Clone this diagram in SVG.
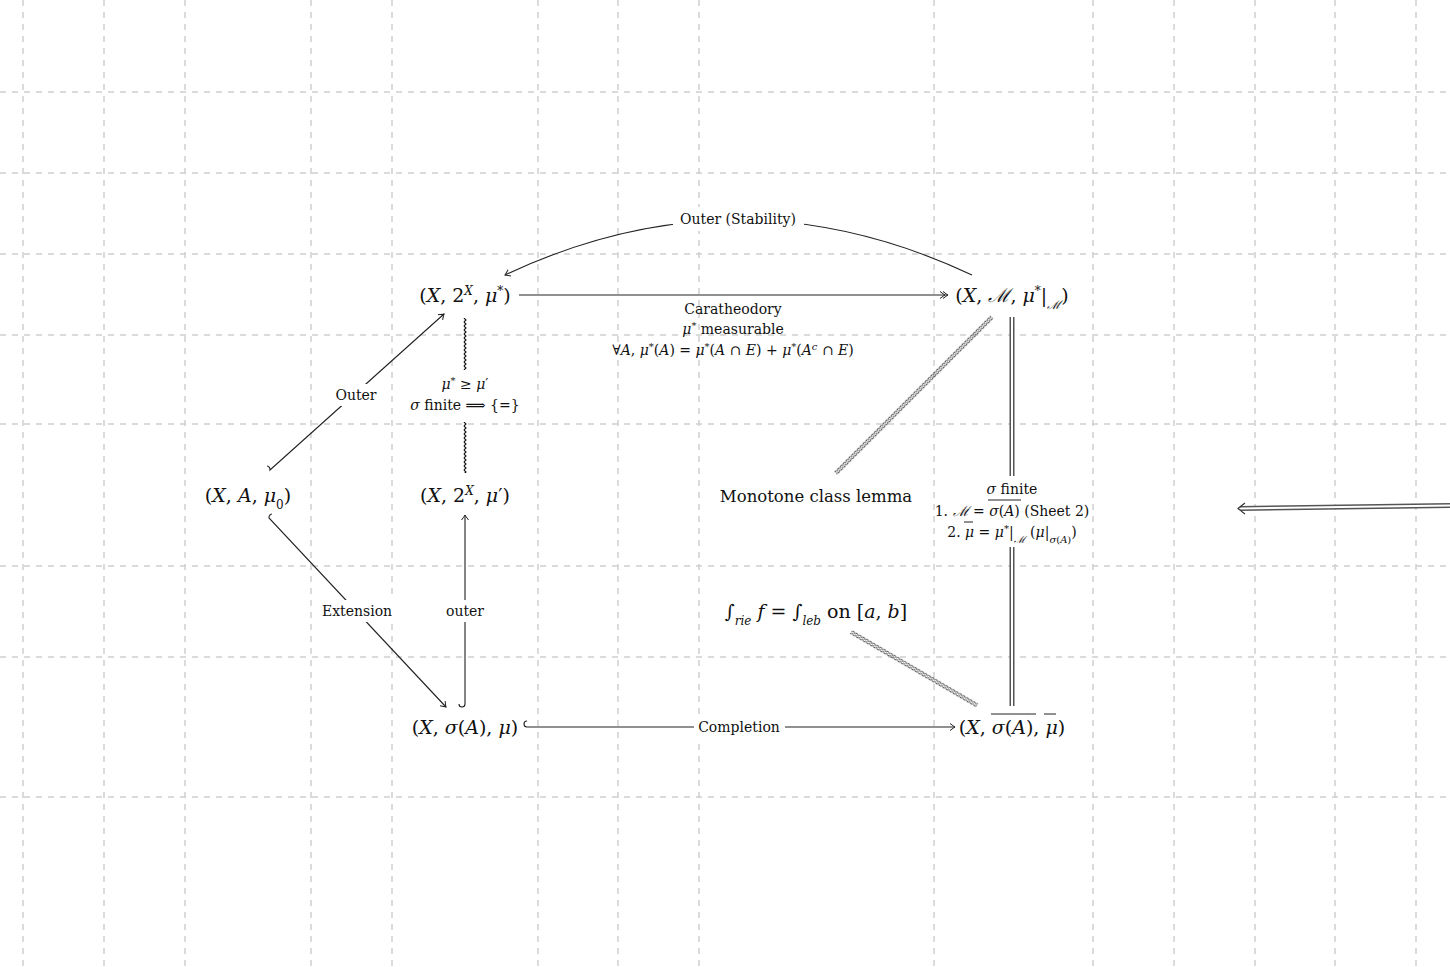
<svg xmlns="http://www.w3.org/2000/svg" width="1450" height="967" viewBox="0 0 1450 967">
<style>
.grid line{stroke:#d0d0d0;stroke-width:1.5;stroke-dasharray:6 6}
.n{font-family:"DejaVu Serif","Liberation Serif",serif;font-size:19px;fill:#111;text-anchor:middle}
.l{font-family:"DejaVu Serif","Liberation Serif",serif;font-size:14px;fill:#111;text-anchor:middle}
.i{font-style:italic}
.e{fill:none;stroke:#222;stroke-width:1.1}
.bg{fill:#fff}
.ov{stroke:#222;stroke-width:1}
</style>
<defs>
<marker id="ah" viewBox="-6 -5 8 10" markerWidth="8" markerHeight="10" refX="0" refY="0" orient="auto" markerUnits="userSpaceOnUse">
<path d="M-5,-3.5 Q-1,-0.5 0,0 Q-1,0.5 -5,3.5" fill="none" stroke="#222" stroke-width="1"/>
</marker>
<marker id="ah2" viewBox="-10 -5 12 10" markerWidth="12" markerHeight="10" refX="0" refY="0" orient="auto" markerUnits="userSpaceOnUse">
<path d="M-5,-3.5 Q-1,-0.5 0,0 Q-1,0.5 -5,3.5 M-8,-3.5 Q-4,-0.5 -3,0 Q-4,0.5 -8,3.5" fill="none" stroke="#222" stroke-width="1"/>
</marker>
<pattern id="zz" patternUnits="userSpaceOnUse" width="4" height="4">
<path d="M0,3 L2,1 L4,3" fill="none" stroke="#111" stroke-width="1.1"/>
</pattern>
<pattern id="zz2" patternUnits="userSpaceOnUse" width="4" height="6">
<path d="M0,2.5 L2,1 L4,2.5 M0,5 L2,3.5 L4,5" fill="none" stroke="#444" stroke-width="1"/>
</pattern>
</defs>
<rect width="1450" height="967" fill="#fff"/>
<g class="grid">
<line x1="23" y1="0" x2="23" y2="967"/><line x1="104" y1="0" x2="104" y2="967"/><line x1="185" y1="0" x2="185" y2="967"/>
<line x1="311" y1="0" x2="311" y2="967"/><line x1="392" y1="0" x2="392" y2="967"/><line x1="538" y1="0" x2="538" y2="967"/>
<line x1="618" y1="0" x2="618" y2="967"/><line x1="699" y1="0" x2="699" y2="967"/><line x1="934" y1="0" x2="934" y2="967"/>
<line x1="1093" y1="0" x2="1093" y2="967"/><line x1="1174" y1="0" x2="1174" y2="967"/><line x1="1255" y1="0" x2="1255" y2="967"/>
<line x1="1335" y1="0" x2="1335" y2="967"/><line x1="1416" y1="0" x2="1416" y2="967"/>
<line x1="0" y1="92" x2="1450" y2="92"/><line x1="0" y1="173" x2="1450" y2="173"/><line x1="0" y1="254" x2="1450" y2="254"/>
<line x1="0" y1="335" x2="1450" y2="335"/><line x1="0" y1="424" x2="1450" y2="424"/><line x1="0" y1="566" x2="1450" y2="566"/>
<line x1="0" y1="657" x2="1450" y2="657"/><line x1="0" y1="797" x2="1450" y2="797"/>
</g>
<g id="connectors">
<path class="e" d="M972,275 Q738,165 505,275" marker-end="url(#ah)"/>
<path class="e" d="M519,295 L948,295" marker-end="url(#ah2)"/>
<rect x="0" y="0" width="52" height="4" fill="url(#zz)" transform="translate(465,318) rotate(90) translate(0,-2)"/>
<rect x="0" y="0" width="51" height="4" fill="url(#zz)" transform="translate(465,422) rotate(90) translate(0,-2)"/>
<path class="e" d="M267,466 a3.5,3.5 0 0 1 3,4 L444,314" marker-end="url(#ah)"/>
<path class="e" d="M272,514 a3.5,3.5 0 0 0 -3,4 L446,707" marker-end="url(#ah)"/>
<path class="e" d="M459,704 a3,3 0 0 0 6,0 L465,515" marker-end="url(#ah)"/>
<path class="e" d="M527,721 a3,3 0 0 0 0,6 L955,727" marker-end="url(#ah)"/>
<rect x="0" y="0" width="221" height="6" fill="url(#zz2)" transform="translate(992,317) rotate(135) translate(0,-3)"/>
<rect x="0" y="0" width="146" height="6" fill="url(#zz2)" transform="translate(851,632) rotate(30.2) translate(0,-3)"/>
<path d="M1012,317 V476 M1012,547 V706" stroke="#555" stroke-width="5" fill="none"/>
<path d="M1012,317 V476 M1012,547 V706" stroke="#fff" stroke-width="2" fill="none"/>
<path d="M1450,505.5 L1240,508.5" stroke="#555" stroke-width="5" fill="none"/>
<path d="M1450,505.5 L1240,508.5" stroke="#fff" stroke-width="2" fill="none"/>
<path d="M1245,503 Q1240,507 1238,508.5 Q1240,510 1245,514" stroke="#333" stroke-width="1.1" fill="none"/>
<rect class="bg" x="673" y="207" width="131" height="24"/>
<rect class="bg" x="333" y="384" width="46" height="22"/>
<rect class="bg" x="318" y="600" width="78" height="22"/>
<rect class="bg" x="443" y="600" width="44" height="22"/>
<rect class="bg" x="694" y="716" width="91" height="22"/>
<text class="l" x="738" y="224">Outer (Stability)</text>
<text class="l" x="733" y="314">Caratheodory</text>
<text class="l" x="733" y="334"><tspan class="i">μ</tspan><tspan baseline-shift="super" font-size="10">*</tspan> measurable</text>
<text class="l" x="733" y="355">∀<tspan class="i">A</tspan>,  <tspan class="i">μ</tspan><tspan baseline-shift="super" font-size="10">*</tspan>(<tspan class="i">A</tspan>) = <tspan class="i">μ</tspan><tspan baseline-shift="super" font-size="10">*</tspan>(<tspan class="i">A</tspan> ∩ <tspan class="i">E</tspan>) + <tspan class="i">μ</tspan><tspan baseline-shift="super" font-size="10">*</tspan>(<tspan class="i">A</tspan><tspan baseline-shift="super" font-size="10" class="i">c</tspan> ∩ <tspan class="i">E</tspan>)</text>
<text class="l" x="465" y="389"><tspan class="i">μ</tspan><tspan baseline-shift="super" font-size="10">*</tspan> ≥ <tspan class="i">μ</tspan>′</text>
<text class="l" x="465" y="410"><tspan class="i">σ</tspan> finite  ⟹  {=}</text>
<text class="l" x="356" y="400">Outer</text>
<text class="l" x="357" y="616">Extension</text>
<text class="l" x="465" y="616">outer</text>
<text class="l" x="739" y="732">Completion</text>
<text class="l" x="1012" y="494"><tspan class="i">σ</tspan> finite</text>
<text class="l" x="1012" y="516">1. <tspan class="i">ℳ</tspan> = <tspan class="i">σ</tspan>(<tspan class="i">A</tspan>) (Sheet 2)</text>
<line class="ov" x1="988" y1="500" x2="1021" y2="500"/>
<text class="l" x="1012" y="537">2. <tspan class="i">μ</tspan> = <tspan class="i">μ</tspan><tspan baseline-shift="super" font-size="10">*</tspan>|<tspan baseline-shift="sub" font-size="10" class="i">ℳ</tspan> (<tspan class="i">μ</tspan>|<tspan baseline-shift="sub" font-size="10"><tspan class="i">σ</tspan>(<tspan class="i">A</tspan>)</tspan>)</text>
<line class="ov" x1="964" y1="522" x2="973" y2="522"/>
</g>
<g id="n1"><text class="n" x="465" y="302">(<tspan class="i">X</tspan>, 2<tspan baseline-shift="super" font-size="12" class="i">X</tspan>, <tspan class="i">μ</tspan><tspan baseline-shift="super" font-size="12">*</tspan>)</text></g>
<g id="n2"><text class="n" x="1012" y="302">(<tspan class="i">X</tspan>, <tspan class="i">ℳ</tspan>, <tspan class="i">μ</tspan><tspan baseline-shift="super" font-size="12">*</tspan>|<tspan baseline-shift="sub" font-size="12" class="i">ℳ</tspan>)</text></g>
<g id="n3"><text class="n" x="248" y="502">(<tspan class="i">X</tspan>, <tspan class="i">A</tspan>, <tspan class="i">μ</tspan><tspan baseline-shift="sub" font-size="12">0</tspan>)</text></g>
<g id="n4"><text class="n" x="465" y="502">(<tspan class="i">X</tspan>, 2<tspan baseline-shift="super" font-size="12" class="i">X</tspan>, <tspan class="i">μ</tspan>′)</text></g>
<g id="n5"><text class="n" x="816" y="502" style="font-size:16.5px">Monotone class lemma</text></g>
<g id="n6"><text class="n" x="816" y="618">∫<tspan baseline-shift="sub" font-size="12" class="i">rie</tspan> <tspan class="i">f</tspan> = ∫<tspan baseline-shift="sub" font-size="12" class="i">leb</tspan>  on [<tspan class="i">a</tspan>, <tspan class="i">b</tspan>]</text></g>
<g id="n7"><text class="n" x="465" y="734">(<tspan class="i">X</tspan>, <tspan class="i">σ</tspan>(<tspan class="i">A</tspan>), <tspan class="i">μ</tspan>)</text></g>
<g id="n8"><text class="n" x="1012" y="734">(<tspan class="i">X</tspan>, <tspan class="i">σ</tspan>(<tspan class="i">A</tspan>), <tspan class="i">μ</tspan>)</text>
<line class="ov" x1="991" y1="714" x2="1036" y2="714"/>
<line class="ov" x1="1044" y1="714" x2="1056" y2="714"/></g>
</svg>
